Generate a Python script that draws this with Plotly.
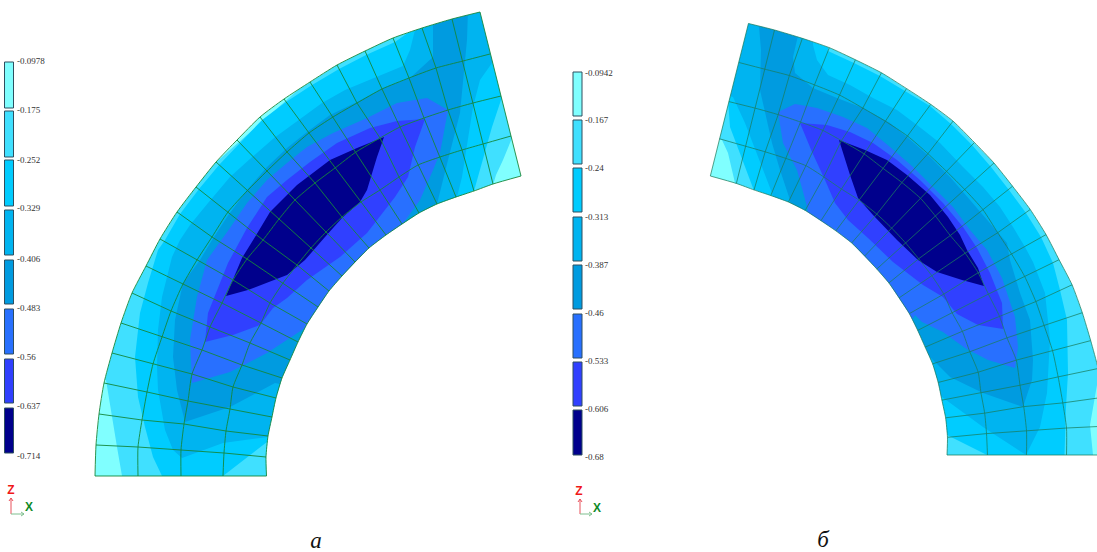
import plotly.graph_objects as go

# Mesh nodes of panel a: one list per ring, inner ring first
RING0 = [(266.5,476),(266,457),(268,436),(272,417),(276,398),(282,378),(290,360),(298,342),(307,324),(318,307),(329,291),(342,276),(355,262),(369,248),(386,235),(402,224),(419,213),(437,204),(456,197),(474,191),(493,184),(521,176)]
RING1 = [(223,476),(224,453),(226,431),(230,409),(233,387),(242,365),(250,343),(261,323),(270,303),(283,283),(297,265),(311,248),(326,232),(342,217),(361,202),(380,190),(399,177),(418,165),(440,157),(462,150),(483,144),(511,136)]
RING2 = [(181,476),(181,450),(184,424),(188,401),(192,374),(202,350),(210,327),(222,303),(233,280),(247,259),(263,240),(279,219),(295,200),(315,183),(335,168),(356,152),(380,138),(400,127),(424,118),(448,110),(473,103),(501,96)]
RING3 = [(138,476),(138,447),(142,420),(147,392),(153,364),(162,337),(171,311),(183,284),(197,260),(212,237),(228,212),(247,191),(267,171),(287,152),(309,133),(333,117),(357,103),(382,89),(409,78),(436,68),(463,61),(490,54)]
RING4 = [(95,476),(96,445),(99,414),(104,383),(112,353),(121,323),(132,293),(146,266),(160,239),(177,212),(196,187),(216,162),(237,140),(260,117),(284,99),(310,82),(337,65),(365,51),(393,38),(422,28),(452,19),(480,12)]

# Level colours, lightest to darkest
LEVEL_COLORS = ["#80FFFF","#40E0FF","#00CCFF","#00B4F0","#009BE0","#2870FF","#3040FF","#00008C"]

# Contour regions of panel a (each region = values at that level or darker)
A_L1 = [(122,490),(122,476),(117,447),(110,407),(106,380),(95,375),(60,300),(400,0),(530,0),(530,135),(512,138),(503,160),(496,175),(490,195),(300,490)]
A_L2 = [(162,490),(162,476),(153,457),(145,427),(138,397),(135,357),(140,313),(148,283),(158,250),(165,240),(180,214),(199,189),(219,165),(240,143),(262,120),(286,102),(312,85),(339,69),(366,55),(395,42),(412,30),(412,0),(515,0),(515,95),(501,100),(492,127),(483,160),(474,191),(474,205),(300,420),(275,445),(267,442),(223,476),(223,490)]
A_L3 = [(415,30),(412,15),(490,0),(505,60),(492,63),(480,80),(473,107),(467,143),(462,177),(457,197),(457,205),(400,240),(340,310),(300,385),(280,437),(268,437),(223,443),(182,458),(173,450),(165,430),(158,390),(157,367),(158,330),(162,297),(172,257),(180,240),(190,225),(208,203),(230,177),(251,158),(274,138),(296,122),(322,103),(345,90),(374,78),(403,66),(410,50)]
A_L4 = [(433,15),(468,10),(467,40),(462,90),(460,113),(448,160),(437,204),(440,215),(400,245),(350,295),(310,345),(285,385),(275,383),(230,407),(185,422),(177,390),(173,357),(175,320),(183,283),(200,260),(212,240),(227,217),(247,190),(267,167),(287,148),(307,132),(330,115),(357,102),(383,88),(410,78),(433,57)]
A_L5 = [(448,110),(440,153),(433,170),(420,200),(402,225),(410,240),(370,275),(330,315),(310,335),(305,328),(267,353),(230,372),(192,383),(190,340),(197,297),(207,260),(230,228),(247,203),(267,180),(287,163),(307,147),(333,133),(367,118),(397,103),(427,98)]
A_L6 = [(425,119),(415,147),(408,177),(395,197),(367,233),(340,257),(307,280),(287,298),(273,308),(260,325),(233,335),(205,342),(208,313),(218,287),(228,263),(247,228),(267,197),(287,180),(310,162),(337,143),(370,128),(397,121)]
A_L7 = [(226,296),(233,280),(242,258),(255,237),(270,212),(297,185),(330,160),(357,148),(384,137),(377,157),(367,190),(360,202),(342,218),(325,237),(305,260),(287,275),(248,290)]

# Contour regions of panel b
B_L1 = [(1093,480),(1093,455),(1090,425),(1097,385),(1120,380),(1120,0),(700,0),(700,135),(722,140),(728,153),(735,183),(735,200),(940,480)]
B_L2 = [(728,100),(720,90),(740,10),(828,40),(828,51),(854,63),(880,76),(905,91),(930,106),(951,124),(972,145),(991,167),(1009,190),(1026,213),(1041,237),(1053,263),(1060,290),(1067,320),(1068,373),(1066,407),(1064,455),(1064,470),(987,470),(987,455),(947,435),(930,420),(800,260),(753,205),(753,188),(740,153),(730,127)]
B_L3 = [(735,10),(813,30),(813,45),(817,60),(828,75),(850,85),(873,98),(897,110),(917,125),(940,143),(963,167),(983,187),(1000,207),(1013,227),(1025,247),(1033,262),(1045,293),(1050,340),(1047,393),(1040,427),(1026,455),(983,427),(942,397),(930,410),(850,320),(775,205),(772,193),(757,153),(745,123),(733,97),(725,95)]
B_L4 = [(758,15),(800,25),(797,40),(793,57),(795,73),(813,88),(837,98),(863,108),(890,123),(907,137),(930,157),(950,177),(970,200),(987,220),(1007,243),(1010,260),(1020,293),(1030,320),(1033,360),(1032,380),(1023,407),(983,393),(950,377),(928,355),(915,365),(850,300),(790,215),(790,200),(780,170),(772,143),(765,110),(760,90),(761,50),(759,27)]
B_L5 = [(778,112),(795,104),(817,108),(843,117),(867,128),(890,147),(913,167),(933,187),(953,207),(970,230),(987,250),(1002,278),(1015,317),(1018,347),(1015,368),(988,360),(965,348),(943,332),(922,322),(915,315),(905,330),(850,285),(800,225),(808,210),(797,170),(783,143)]
B_L6 = [(800,123),(827,125),(850,132),(873,143),(897,160),(920,180),(943,203),(963,227),(977,248),(990,273),(1002,303),(1003,329),(978,325),(957,314),(943,297),(923,285),(893,262),(868,238),(848,220),(835,203),(825,180),(812,152)]
B_L7 = [(839,140),(865,150),(887,160),(907,175),(930,195),(948,217),(960,235),(967,250),(978,268),(984,286),(962,280),(937,272),(918,260),(897,240),(873,215),(858,198),(850,175)]

# Colour legends
A_LABELS = ["-0.0978","-0.175","-0.252","-0.329","-0.406","-0.483","-0.56","-0.637","-0.714"]
A_LABEL_Y = [62,111,161,209,260,309,358,407,457]
A_BAR_TOP = [62,111,160,210,260,309,359,408]
A_BAR_BOTTOM = [108,157,206,255,304,354,403,453]
B_LABELS = ["-0.0942","-0.167","-0.24","-0.313","-0.387","-0.46","-0.533","-0.606","-0.68"]
B_LABEL_Y = [74,121,169,218,266,314,362,410,458]
B_BAR_TOP = [72,120,168,217,265,314,362,410]
B_BAR_BOTTOM = [116,164,212,261,309,358,406,455]

# Mirror relation between the two meshes, measured on the picture
B_SCALE = 0.93
B_X0, B_Y0 = 947, 455
A_X0, A_Y0 = 266.5, 476

MESH_COLOR_A = "rgba(20,135,60,0.9)"
MESH_COLOR_B = "rgba(25,125,95,0.75)"

fig = go.Figure()

def poly(pts, color, line=None, width=0):
    xs = [p[0] for p in pts] + [pts[0][0]]
    ys = [p[1] for p in pts] + [pts[0][1]]
    fig.add_trace(go.Scatter(x=xs, y=ys, mode="lines", fill="toself", fillcolor=color,
                             line=dict(color=line or color, width=width), hoverinfo="skip", showlegend=False))

def polyline(pts, color, width=1.0, shape="linear"):
    fig.add_trace(go.Scatter(x=[p[0] for p in pts], y=[p[1] for p in pts], mode="lines",
                             line=dict(color=color, width=width, shape=shape, smoothing=0.6 if shape == "spline" else None),
                             hoverinfo="skip", showlegend=False))

def panel(rings, regions, frame, mesh_color, mirrored):
    inner, outer = rings[0], rings[-1]
    sector = list(inner) + [r[-1] for r in rings[1:-1]] + list(outer[::-1]) + [r[0] for r in rings[-2:0:-1]]
    poly(sector, LEVEL_COLORS[0])
    for pts, col in zip(regions, LEVEL_COLORS[1:]):
        poly(pts, col)
    # white surround with the sector cut out; the rectangle winds against the sector
    x0, y0, x1, y1 = frame
    loop = [outer[0]] + [r[0] for r in rings[-2:0:-1]] + list(inner) + [r[-1] for r in rings[1:-1]] + list(outer[::-1])
    if mirrored:
        rect = [(x1,y1),(x1,y0),(x0,y0),(x0,y1),(x1,y1)]
    else:
        rect = [(x0,y1),(x0,y0),(x1,y0),(x1,y1),(x0,y1)]
    poly(rect + loop, "#FFFFFF")
    for r in rings:
        polyline(r, mesh_color, shape="spline")
    for i in range(len(inner)):
        polyline([r[i] for r in rings], mesh_color)

def legend(x0, x1, tops, bottoms, labels, label_y, label_x):
    for t, b, c in zip(tops, bottoms, LEVEL_COLORS):
        poly([(x0,t),(x1,t),(x1,b),(x0,b)], c, line="#2F4F5F", width=1)
    fig.add_trace(go.Scatter(x=[label_x]*len(labels), y=label_y, mode="text", text=labels,
                             textposition="middle right", hoverinfo="skip", showlegend=False,
                             textfont=dict(family="Liberation Serif", size=9, color="#333333")))

def triad(x, ybase, ytop, xend, zx, zy, xx, xy):
    polyline([(x,ybase),(x,ytop)], "#E8505A")
    polyline([(x-2,ytop+3),(x,ytop),(x+2,ytop+3)], "#E8505A")
    polyline([(x,ybase),(xend,ybase)], "#7FBF8F")
    polyline([(xend-3,ybase-2),(xend,ybase),(xend-3,ybase+2)], "#7FBF8F")
    fig.add_trace(go.Scatter(x=[zx,xx], y=[zy,xy], mode="text", text=["<b>Z</b>","<b>X</b>"],
                             hoverinfo="skip", showlegend=False,
                             textfont=dict(family="Liberation Sans", size=12, color=["#F01818","#108A28"])))

rings_a = [RING0, RING1, RING2, RING3, RING4]
rings_b = [[(B_X0 + B_SCALE*(A_X0-x), B_Y0 + B_SCALE*(y-A_Y0)) for x, y in r] for r in rings_a]

panel(rings_a, [A_L1,A_L2,A_L3,A_L4,A_L5,A_L6,A_L7], (60,0,535,510), MESH_COLOR_A, False)
panel(rings_b, [B_L1,B_L2,B_L3,B_L4,B_L5,B_L6,B_L7], (700,0,1130,490), MESH_COLOR_B, True)

legend(4.5, 13.5, A_BAR_TOP, A_BAR_BOTTOM, A_LABELS, A_LABEL_Y, 17)
legend(573, 582, B_BAR_TOP, B_BAR_BOTTOM, B_LABELS, B_LABEL_Y, 585)
triad(11, 514, 498, 24, 11, 491, 29, 508)
triad(580, 514, 499, 592, 579, 492, 597, 509)

fig.add_trace(go.Scatter(x=[316,823], y=[542,541], mode="text", text=["а","б"], hoverinfo="skip", showlegend=False,
                         textfont=dict(family="Liberation Serif", size=23, color="#111111", style="italic")))

fig.update_layout(width=1097, height=552, margin=dict(l=0,r=0,t=0,b=0), showlegend=False,
                  paper_bgcolor="white", plot_bgcolor="white",
                  xaxis=dict(range=[0,1097], visible=False, fixedrange=True),
                  yaxis=dict(range=[552,0], visible=False, fixedrange=True))
fig.write_html("out.html", config={"displayModeBar": False},
               post_script="document.body.style.margin='0';document.body.style.overflow='hidden';")
